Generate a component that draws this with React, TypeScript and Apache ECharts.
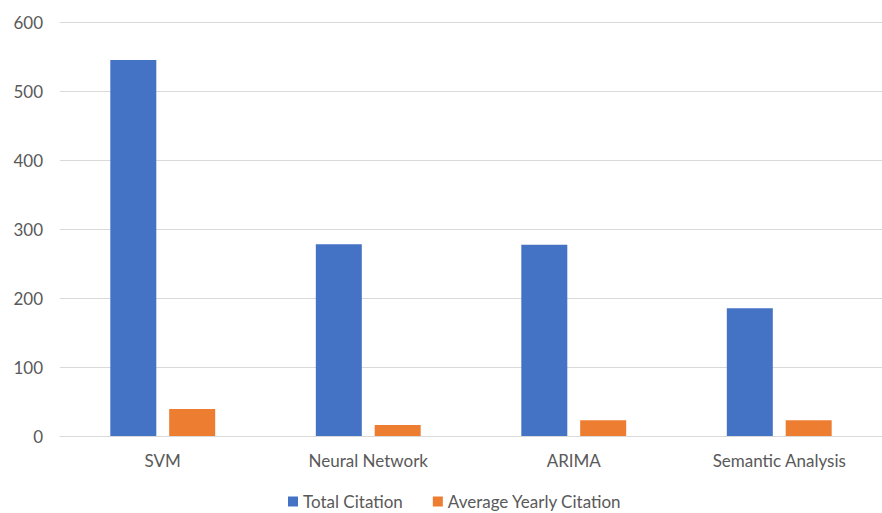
import React, { useEffect, useRef } from "react";
import * as echarts from "echarts";

const categories = ["SVM", "Neural Network", "ARIMA", "Semantic Analysis"];
const totalCitation = [545, 278, 277, 185];
const avgYearlyCitation = [39, 16, 23, 23];

const FONT = "Lato, 'Open Sans', sans-serif";

export default function App() {
  const ref = useRef<HTMLDivElement>(null);
  useEffect(() => {
    const chart = echarts.init(ref.current!, null, { renderer: "svg" });
    chart.setOption({
      animation: false,
      textStyle: { fontFamily: FONT },
      grid: { left: 60, right: 0, top: 22, bottom: 77, containLabel: false },
      legend: {
        top: 488,
        left: 283,
        itemWidth: 10,
        itemHeight: 10,
        itemGap: 30,
        icon: "rect",
        textStyle: { fontSize: 17, color: "#595959", fontFamily: FONT },
        data: ["Total Citation", "Average Yearly Citation"],
      },
      xAxis: {
        type: "category",
        data: categories,
        axisTick: { show: false },
        axisLine: { lineStyle: { color: "#d9d9d9", width: 1 } },
        axisLabel: { fontSize: 17, color: "#595959", margin: 16, fontFamily: FONT },
      },
      yAxis: {
        type: "value",
        min: 0,
        max: 600,
        interval: 100,
        axisLine: { show: false },
        axisTick: { show: false },
        splitLine: { lineStyle: { color: "#d9d9d9", width: 1 } },
        axisLabel: { fontSize: 17, color: "#595959", margin: 17, fontFamily: FONT },
      },
      series: [
        {
          name: "Total Citation",
          type: "bar",
          data: totalCitation,
          barWidth: 46,
          barGap: "28%",
          itemStyle: { color: "#4472c4" },
        },
        {
          name: "Average Yearly Citation",
          type: "bar",
          data: avgYearlyCitation,
          barWidth: 46,
          itemStyle: { color: "#ed7d31" },
        },
      ],
    });
    return () => chart.dispose();
  }, []);
  return (
    <div
      ref={ref}
      style={{ position: "fixed", left: 0, top: 0, width: 882, height: 513, background: "#fff" }}
    />
  );
}
